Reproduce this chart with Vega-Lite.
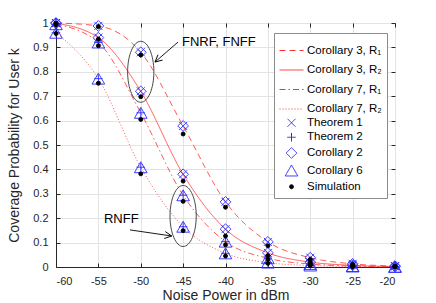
{
  "$schema": "https://vega.github.io/schema/vega-lite/v6.json",
  "width": 339,
  "height": 244,
  "autosize": {"type": "none"},
  "padding": {"left": 56, "top": 23, "right": 41, "bottom": 36},
  "background": "white",
  "config": {
    "font": "Liberation Sans",
    "view": {"stroke": "#262626", "strokeWidth": 1},
    "axis": {
      "labelFont": "Liberation Sans", "labelFontSize": 11, "labelColor": "#262626",
      "titleFont": "Liberation Sans", "titleFontSize": 14, "titleFontWeight": "normal", "titleColor": "#262626",
      "gridColor": "#e3e3e3", "gridWidth": 1, "domainColor": "#262626", "tickColor": "#262626",
      "tickSize": -4, "labelPadding": 12
    },
    "legend": {
      "orient": "none", "legendX": 218, "legendY": 10, "padding": 5,
      "strokeColor": "#8c8c8c", "fillColor": "white",
      "labelFont": "Liberation Sans", "labelFontSize": 11.5, "labelColor": "#000000",
      "symbolStrokeWidth": 1, "rowPadding": 1.5, "labelOffset": 3, "labelLimit": 80
    }
  },
  "resolve": {"axis": {"x": "independent", "y": "independent"}},
  "datasets": {
    "curves": [
      {"series": "Corollary 3, R₁", "x": -60, "y": 1.0}, {"series": "Corollary 3, R₁", "x": -55, "y": 0.988}, {"series": "Corollary 3, R₁", "x": -50, "y": 0.88}, {"series": "Corollary 3, R₁", "x": -45, "y": 0.578}, {"series": "Corollary 3, R₁", "x": -40, "y": 0.267}, {"series": "Corollary 3, R₁", "x": -35, "y": 0.103}, {"series": "Corollary 3, R₁", "x": -30, "y": 0.038}, {"series": "Corollary 3, R₁", "x": -25, "y": 0.013}, {"series": "Corollary 3, R₁", "x": -20, "y": 0.004},
      {"series": "Corollary 3, R₂", "x": -60, "y": 0.999}, {"series": "Corollary 3, R₂", "x": -55, "y": 0.94}, {"series": "Corollary 3, R₂", "x": -50, "y": 0.72}, {"series": "Corollary 3, R₂", "x": -45, "y": 0.38}, {"series": "Corollary 3, R₂", "x": -40, "y": 0.155}, {"series": "Corollary 3, R₂", "x": -35, "y": 0.058}, {"series": "Corollary 3, R₂", "x": -30, "y": 0.02}, {"series": "Corollary 3, R₂", "x": -25, "y": 0.007}, {"series": "Corollary 3, R₂", "x": -20, "y": 0.002},
      {"series": "Corollary 7, R₁", "x": -60, "y": 0.995}, {"series": "Corollary 7, R₁", "x": -55, "y": 0.92}, {"series": "Corollary 7, R₁", "x": -50, "y": 0.632}, {"series": "Corollary 7, R₁", "x": -45, "y": 0.294}, {"series": "Corollary 7, R₁", "x": -40, "y": 0.104}, {"series": "Corollary 7, R₁", "x": -35, "y": 0.036}, {"series": "Corollary 7, R₁", "x": -30, "y": 0.012}, {"series": "Corollary 7, R₁", "x": -25, "y": 0.004}, {"series": "Corollary 7, R₁", "x": -20, "y": 0.001},
      {"series": "Corollary 7, R₂", "x": -60, "y": 0.96}, {"series": "Corollary 7, R₂", "x": -55, "y": 0.772}, {"series": "Corollary 7, R₂", "x": -50, "y": 0.409}, {"series": "Corollary 7, R₂", "x": -45, "y": 0.165}, {"series": "Corollary 7, R₂", "x": -40, "y": 0.056}, {"series": "Corollary 7, R₂", "x": -35, "y": 0.018}, {"series": "Corollary 7, R₂", "x": -30, "y": 0.006}, {"series": "Corollary 7, R₂", "x": -25, "y": 0.002}, {"series": "Corollary 7, R₂", "x": -20, "y": 0.0005}
    ],
    "points": [
      {"series": "Theorem 1", "x": -60, "y": 1.0}, {"series": "Theorem 1", "x": -55, "y": 0.988}, {"series": "Theorem 1", "x": -50, "y": 0.88}, {"series": "Theorem 1", "x": -45, "y": 0.578}, {"series": "Theorem 1", "x": -40, "y": 0.267}, {"series": "Theorem 1", "x": -35, "y": 0.103}, {"series": "Theorem 1", "x": -30, "y": 0.038}, {"series": "Theorem 1", "x": -25, "y": 0.013}, {"series": "Theorem 1", "x": -20, "y": 0.004},
      {"series": "Theorem 1", "x": -60, "y": 0.999}, {"series": "Theorem 1", "x": -55, "y": 0.94}, {"series": "Theorem 1", "x": -50, "y": 0.72}, {"series": "Theorem 1", "x": -45, "y": 0.38}, {"series": "Theorem 1", "x": -40, "y": 0.155}, {"series": "Theorem 1", "x": -35, "y": 0.058}, {"series": "Theorem 1", "x": -30, "y": 0.02}, {"series": "Theorem 1", "x": -25, "y": 0.007}, {"series": "Theorem 1", "x": -20, "y": 0.002},
      {"series": "Corollary 2", "x": -60, "y": 1.0}, {"series": "Corollary 2", "x": -55, "y": 0.988}, {"series": "Corollary 2", "x": -50, "y": 0.88}, {"series": "Corollary 2", "x": -45, "y": 0.578}, {"series": "Corollary 2", "x": -40, "y": 0.267}, {"series": "Corollary 2", "x": -35, "y": 0.103}, {"series": "Corollary 2", "x": -30, "y": 0.038}, {"series": "Corollary 2", "x": -25, "y": 0.013}, {"series": "Corollary 2", "x": -20, "y": 0.004},
      {"series": "Corollary 2", "x": -60, "y": 0.999}, {"series": "Corollary 2", "x": -55, "y": 0.94}, {"series": "Corollary 2", "x": -50, "y": 0.72}, {"series": "Corollary 2", "x": -45, "y": 0.38}, {"series": "Corollary 2", "x": -40, "y": 0.155}, {"series": "Corollary 2", "x": -35, "y": 0.058}, {"series": "Corollary 2", "x": -30, "y": 0.02}, {"series": "Corollary 2", "x": -25, "y": 0.007}, {"series": "Corollary 2", "x": -20, "y": 0.002},
      {"series": "Theorem 2", "x": -60, "y": 0.995}, {"series": "Theorem 2", "x": -55, "y": 0.92}, {"series": "Theorem 2", "x": -50, "y": 0.632}, {"series": "Theorem 2", "x": -45, "y": 0.294}, {"series": "Theorem 2", "x": -40, "y": 0.104}, {"series": "Theorem 2", "x": -35, "y": 0.036}, {"series": "Theorem 2", "x": -30, "y": 0.012}, {"series": "Theorem 2", "x": -25, "y": 0.004}, {"series": "Theorem 2", "x": -20, "y": 0.001},
      {"series": "Theorem 2", "x": -60, "y": 0.96}, {"series": "Theorem 2", "x": -55, "y": 0.772}, {"series": "Theorem 2", "x": -50, "y": 0.409}, {"series": "Theorem 2", "x": -45, "y": 0.165}, {"series": "Theorem 2", "x": -40, "y": 0.056}, {"series": "Theorem 2", "x": -35, "y": 0.018}, {"series": "Theorem 2", "x": -30, "y": 0.006}, {"series": "Theorem 2", "x": -25, "y": 0.002}, {"series": "Theorem 2", "x": -20, "y": 0.0005},
      {"series": "Corollary 6", "x": -60, "y": 0.995}, {"series": "Corollary 6", "x": -55, "y": 0.92}, {"series": "Corollary 6", "x": -50, "y": 0.632}, {"series": "Corollary 6", "x": -45, "y": 0.294}, {"series": "Corollary 6", "x": -40, "y": 0.104}, {"series": "Corollary 6", "x": -35, "y": 0.036}, {"series": "Corollary 6", "x": -30, "y": 0.012}, {"series": "Corollary 6", "x": -25, "y": 0.004}, {"series": "Corollary 6", "x": -20, "y": 0.001},
      {"series": "Corollary 6", "x": -60, "y": 0.96}, {"series": "Corollary 6", "x": -55, "y": 0.772}, {"series": "Corollary 6", "x": -50, "y": 0.409}, {"series": "Corollary 6", "x": -45, "y": 0.165}, {"series": "Corollary 6", "x": -40, "y": 0.056}, {"series": "Corollary 6", "x": -35, "y": 0.018}, {"series": "Corollary 6", "x": -30, "y": 0.006}, {"series": "Corollary 6", "x": -25, "y": 0.002}, {"series": "Corollary 6", "x": -20, "y": 0.0005},
      {"series": "Simulation", "x": -60, "y": 0.998}, {"series": "Simulation", "x": -55, "y": 0.985}, {"series": "Simulation", "x": -50, "y": 0.869}, {"series": "Simulation", "x": -45, "y": 0.545}, {"series": "Simulation", "x": -40, "y": 0.245}, {"series": "Simulation", "x": -35, "y": 0.087}, {"series": "Simulation", "x": -30, "y": 0.031}, {"series": "Simulation", "x": -25, "y": 0.01}, {"series": "Simulation", "x": -20, "y": 0.003},
      {"series": "Simulation", "x": -60, "y": 0.997}, {"series": "Simulation", "x": -55, "y": 0.934}, {"series": "Simulation", "x": -50, "y": 0.698}, {"series": "Simulation", "x": -45, "y": 0.352}, {"series": "Simulation", "x": -40, "y": 0.127}, {"series": "Simulation", "x": -35, "y": 0.046}, {"series": "Simulation", "x": -30, "y": 0.018}, {"series": "Simulation", "x": -25, "y": 0.006}, {"series": "Simulation", "x": -20, "y": 0.002},
      {"series": "Simulation", "x": -60, "y": 0.993}, {"series": "Simulation", "x": -55, "y": 0.907}, {"series": "Simulation", "x": -50, "y": 0.605}, {"series": "Simulation", "x": -45, "y": 0.269}, {"series": "Simulation", "x": -40, "y": 0.091}, {"series": "Simulation", "x": -35, "y": 0.031}, {"series": "Simulation", "x": -30, "y": 0.01}, {"series": "Simulation", "x": -25, "y": 0.003}, {"series": "Simulation", "x": -20, "y": 0.001},
      {"series": "Simulation", "x": -60, "y": 0.957}, {"series": "Simulation", "x": -55, "y": 0.753}, {"series": "Simulation", "x": -50, "y": 0.382}, {"series": "Simulation", "x": -45, "y": 0.149}, {"series": "Simulation", "x": -40, "y": 0.045}, {"series": "Simulation", "x": -35, "y": 0.015}, {"series": "Simulation", "x": -30, "y": 0.005}, {"series": "Simulation", "x": -25, "y": 0.0015}, {"series": "Simulation", "x": -20, "y": 0.0005}
    ],
    "ellipses": [
      {"x": -50, "y": 0.80},
      {"x": -45, "y": 0.209}
    ],
    "arrows": [
      {"id": "a", "x": -45.6, "y": 0.922, "x2": -48.32, "y2": 0.84},
      {"id": "b", "x": -51.27, "y": 0.152, "x2": -46.35, "y2": 0.127}
    ],
    "heads": [
      {"id": "a", "x": -48.32, "y": 0.84},
      {"id": "b", "x": -46.35, "y": 0.127}
    ],
    "labels": [
      {"label": "FNRF, FNFF", "x": -45.13, "y": 0.922},
      {"label": "RNFF", "x": -54.34, "y": 0.197}
    ]
  },
  "encoding": {
    "x": {"field": "x", "type": "quantitative", "scale": {"domain": [-60, -20], "nice": false}, "axis": null},
    "y": {"field": "y", "type": "quantitative", "scale": {"domain": [0, 1], "nice": false}, "axis": null}
  },
  "layer": [
    {
      "data": {"name": "curves"},
      "mark": {"type": "line", "interpolate": "monotone", "strokeWidth": 0.8},
      "encoding": {
        "x": {"field": "x", "type": "quantitative",
          "axis": {"orient": "bottom", "title": "Noise Power in dBm", "values": [-60, -55, -50, -45, -40, -35, -30, -25, -20], "labelExpr": "'' + datum.value", "titleBaseline": "alphabetic", "titleY": 32}},
        "y": {"field": "y", "type": "quantitative",
          "axis": {"orient": "left", "title": "Coverage Probability for User k", "values": [0, 0.1, 0.2, 0.3, 0.4, 0.5, 0.6, 0.7, 0.8, 0.9, 1], "format": "~g", "titleX": -35, "titleY": 122, "titleBaseline": "bottom"}},
        "stroke": {"field": "series", "type": "nominal", "legend": {"title": null},
          "scale": {"domain": ["Corollary 3, R₁", "Corollary 3, R₂", "Corollary 7, R₁", "Corollary 7, R₂", "Theorem 1", "Theorem 2", "Corollary 2", "Corollary 6", "Simulation"],
            "range": ["#ff3030", "#ff3030", "#ff3030", "#ff3030", "#2a2aff", "#2a2aff", "#2a2aff", "#2a2aff", "#000000"]}},
        "strokeDash": {"field": "series", "type": "nominal", "legend": {"title": null},
          "scale": {"domain": ["Corollary 3, R₁", "Corollary 3, R₂", "Corollary 7, R₁", "Corollary 7, R₂", "Theorem 1", "Theorem 2", "Corollary 2", "Corollary 6", "Simulation"],
            "range": [[6, 4], [1, 0], [6, 3, 1.5, 3], [1, 2], [1, 0], [1, 0], [1, 0], [1, 0], [1, 0]]}}
      }
    },
    {
      "data": {"name": "points"},
      "mark": {"type": "point", "strokeWidth": 0.9, "opacity": 1},
      "encoding": {
        "stroke": {"field": "series", "type": "nominal", "legend": {"title": null},
          "scale": {"domain": ["Corollary 3, R₁", "Corollary 3, R₂", "Corollary 7, R₁", "Corollary 7, R₂", "Theorem 1", "Theorem 2", "Corollary 2", "Corollary 6", "Simulation"],
            "range": ["#ff3030", "#ff3030", "#ff3030", "#ff3030", "#2a2aff", "#2a2aff", "#2a2aff", "#2a2aff", "#000000"]}},
        "fill": {"field": "series", "type": "nominal", "legend": {"title": null},
          "scale": {"domain": ["Corollary 3, R₁", "Corollary 3, R₂", "Corollary 7, R₁", "Corollary 7, R₂", "Theorem 1", "Theorem 2", "Corollary 2", "Corollary 6", "Simulation"],
            "range": ["transparent", "transparent", "transparent", "transparent", "transparent", "transparent", "transparent", "transparent", "#000000"]}},
        "shape": {"field": "series", "type": "nominal", "legend": {"title": null},
          "scale": {"domain": ["Corollary 3, R₁", "Corollary 3, R₂", "Corollary 7, R₁", "Corollary 7, R₂", "Theorem 1", "Theorem 2", "Corollary 2", "Corollary 6", "Simulation"],
            "range": ["stroke", "stroke", "stroke", "stroke", "M-1,-1L1,1M-1,1L1,-1", "M-1,0L1,0M0,-1L0,1", "diamond", "triangle-up", "circle"]}},
        "size": {"field": "series", "type": "nominal", "legend": {"title": null},
          "scale": {"type": "ordinal", "domain": ["Corollary 3, R₁", "Corollary 3, R₂", "Corollary 7, R₁", "Corollary 7, R₂", "Theorem 1", "Theorem 2", "Corollary 2", "Corollary 6", "Simulation"],
            "range": [576, 576, 576, 576, 64, 72, 115, 160, 16]}}
      }
    },
    {
      "data": {"name": "ellipses"},
      "mark": {"type": "point", "shape": "M0,-1A0.43,1 0 1 1 0,1A0.43,1 0 1 1 0,-1Z", "size": 3721, "stroke": "#333333", "strokeWidth": 0.9, "fill": "transparent", "opacity": 1},
      "encoding": {
        "x": {"field": "x", "type": "quantitative",
          "axis": {"orient": "top", "title": null, "labels": false, "grid": false, "domain": false, "values": [-60, -55, -50, -45, -40, -35, -30, -25, -20], "tickSize": -4}},
        "y": {"field": "y", "type": "quantitative",
          "axis": {"orient": "right", "title": null, "labels": false, "grid": false, "domain": false, "values": [0, 0.1, 0.2, 0.3, 0.4, 0.5, 0.6, 0.7, 0.8, 0.9, 1], "tickSize": -4}}
      }
    },
    {
      "data": {"name": "arrows"},
      "mark": {"type": "rule", "stroke": "#000000", "strokeWidth": 0.9},
      "encoding": {
        "x2": {"field": "x2"},
        "y2": {"field": "y2"}
      }
    },
    {
      "data": {"name": "heads"},
      "transform": [{"filter": "datum.id === 'a'"}],
      "mark": {"type": "point", "shape": "M-0.5,1L0,0L0.5,1", "size": 196, "angle": 229, "stroke": "#000000", "strokeWidth": 0.9, "fill": "transparent", "opacity": 1}
    },
    {
      "data": {"name": "heads"},
      "transform": [{"filter": "datum.id === 'b'"}],
      "mark": {"type": "point", "shape": "M-0.5,1L0,0L0.5,1", "size": 196, "angle": 98, "stroke": "#000000", "strokeWidth": 0.9, "fill": "transparent", "opacity": 1}
    },
    {
      "data": {"name": "labels"},
      "mark": {"type": "text", "align": "left", "baseline": "middle", "font": "Liberation Sans", "fontSize": 13, "color": "#000000"},
      "encoding": {
        "text": {"field": "label"}
      }
    }
  ]
}
